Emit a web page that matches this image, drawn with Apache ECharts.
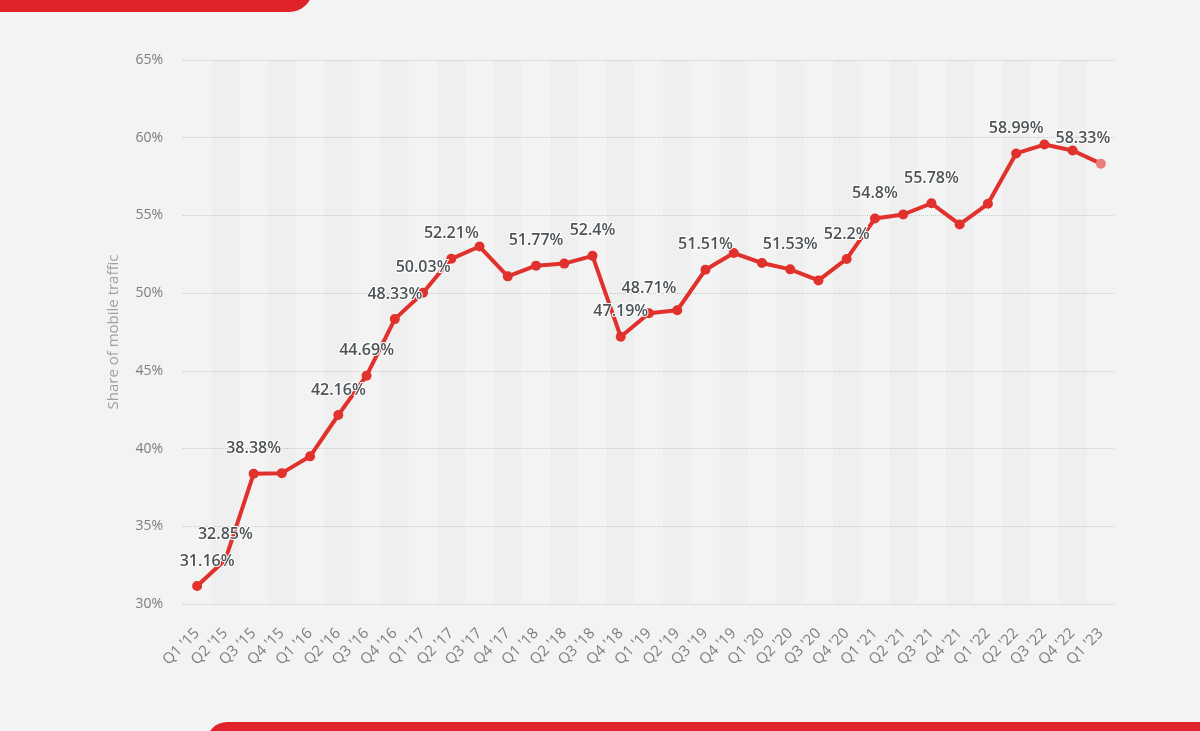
<!DOCTYPE html>
<html>
<head>
<meta charset="utf-8">
<title>Share of mobile traffic</title>
<script src="https://cdn.jsdelivr.net/npm/echarts@6/dist/echarts.min.js"></script>
<style>
  html, body { margin: 0; padding: 0; background: #f3f3f3; }
  #charts { width: 1200px; height: 731px; }
</style>
</head>
<body>
<div id="charts"></div>
<script>
// quarters on the x axis
const categories = [
  "Q1 '15", "Q2 '15", "Q3 '15", "Q4 '15",
  "Q1 '16", "Q2 '16", "Q3 '16", "Q4 '16",
  "Q1 '17", "Q2 '17", "Q3 '17", "Q4 '17",
  "Q1 '18", "Q2 '18", "Q3 '18", "Q4 '18",
  "Q1 '19", "Q2 '19", "Q3 '19", "Q4 '19",
  "Q1 '20", "Q2 '20", "Q3 '20", "Q4 '20",
  "Q1 '21", "Q2 '21", "Q3 '21", "Q4 '21",
  "Q1 '22", "Q2 '22", "Q3 '22", "Q4 '22",
  "Q1 '23"
];

// share of mobile traffic, %
const shares = [
  31.16, 32.85, 38.38, 38.42,
  39.5, 42.16, 44.69, 48.33,
  50.03, 52.21, 53.0, 51.08,
  51.77, 51.9, 52.4, 47.19,
  48.71, 48.9, 51.51, 52.58,
  51.94, 51.53, 50.82, 52.2,
  54.8, 55.06, 55.78, 54.42,
  55.75, 58.99, 59.56, 59.18,
  58.33
];

// points that carry a value label in the original
const labeledIdx = [0, 1, 2, 5, 6, 7, 8, 9, 12, 14, 15, 16, 18, 21, 23, 24, 26, 29, 32];

const yTicks = [30, 35, 40, 45, 50, 55, 60, 65];

const red = '#e0312d';
const myChart = echarts.init(document.getElementById('charts'));

const seriesData = shares.map((v, i) => {
  const item = { value: v, label: { show: labeledIdx.includes(i) } };
  if (i === 0) item.label.offset = [10, 0];
  if (i === shares.length - 1) {
    item.label.offset = [-18, 0];
    item.itemStyle = { color: '#ea7d7a' };
  }
  return item;
});

const option = {
  backgroundColor: '#f3f3f3',
  animation: false,
  textStyle: { fontFamily: 'Open Sans' },
  graphic: [
    { type: 'rect', shape: { x: -30, y: -40, width: 343, height: 52, r: 24 }, style: { fill: '#e0232a' } },
    { type: 'rect', shape: { x: 207, y: 722, width: 1040, height: 50, r: 20 }, style: { fill: '#e0232a' } }
  ],
  grid: { left: 183, right: 85, top: 60, bottom: 127 },
  xAxis: {
    type: 'category',
    data: categories,
    boundaryGap: true,
    axisLine: { show: false },
    axisTick: { show: false },
    axisLabel: { rotate: 45, margin: 27, fontSize: 15, color: '#7d7d7d', interval: 0 },
    splitArea: { show: true, areaStyle: { color: ['rgba(0,0,0,0)', 'rgba(0,0,0,0.015)'] } }
  },
  yAxis: {
    type: 'value',
    min: yTicks[0],
    max: yTicks[yTicks.length - 1],
    interval: 5,
    name: 'Share of mobile traffic',
    nameLocation: 'middle',
    nameGap: 62,
    nameTextStyle: { fontSize: 15, color: '#a0a0a0' },
    axisLine: { show: false },
    axisTick: { show: false },
    axisLabel: { margin: 20, fontSize: 14, color: '#7d7d7d', formatter: '{value}%' },
    splitLine: { lineStyle: { type: 'dotted', color: '#c8c8c8', width: 1 } }
  },
  series: [{
    type: 'line',
    data: seriesData,
    symbol: 'circle',
    symbolSize: 10,
    lineStyle: { color: red, width: 4 },
    itemStyle: { color: red },
    label: {
      position: 'top',
      distance: 12,
      formatter: '{c}%',
      fontSize: 16,
      fontWeight: 600,
      color: '#4d5356',
      textBorderColor: '#ffffff',
      textBorderWidth: 2
    }
  }]
};

myChart.setOption(option);
</script>
</body>
</html>
